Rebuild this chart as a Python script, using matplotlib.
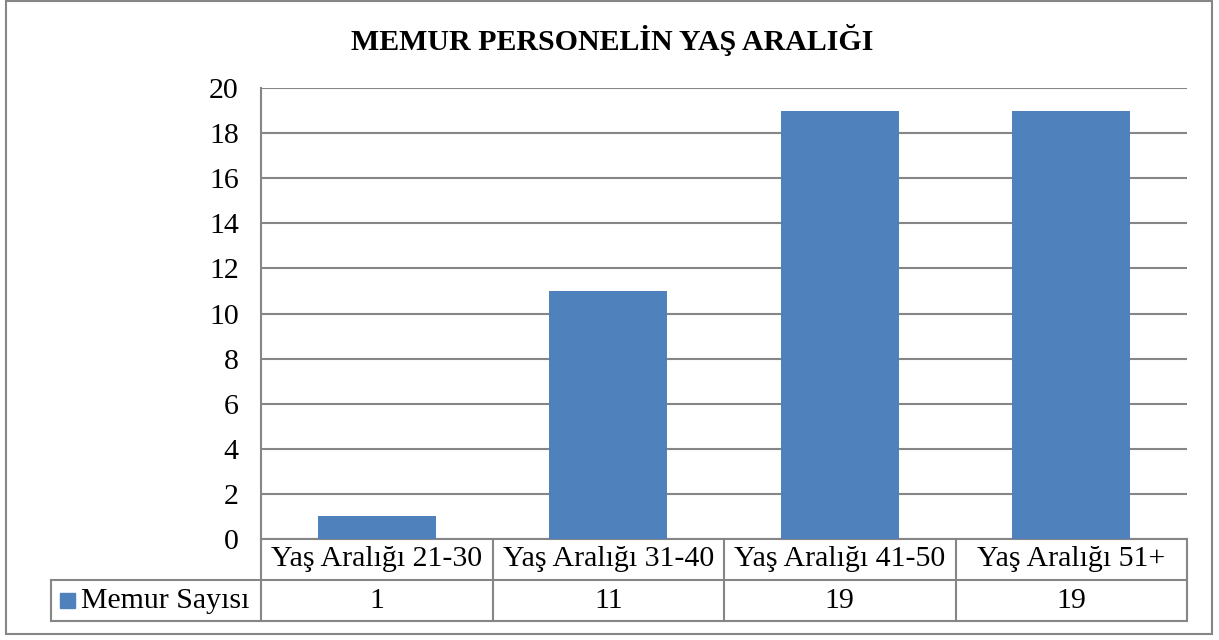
import matplotlib.pyplot as plt
from matplotlib.patches import Rectangle
from matplotlib.transforms import blended_transform_factory

# data
categories = ['Yaş Aralığı 21-30', 'Yaş Aralığı 31-40', 'Yaş Aralığı 41-50', 'Yaş Aralığı 51+']
memur_sayisi = [1, 11, 19, 19]
series_name = 'Memur Sayısı'
title = 'MEMUR PERSONELİN YAŞ ARALIĞI'

bar_color = '#4F81BD'
line_color = '#868686'
font = 'Liberation Serif'
fs = 21.5

plt.rcParams['font.family'] = [font, 'DejaVu Serif']

W, H = 1219, 640
fig = plt.figure(figsize=(W / 100, H / 100), dpi=100)

left, right, top, bottom = 261, 1187, 88, 539
ax = fig.add_axes([left / W, 1 - bottom / H, (right - left) / W, (bottom - top) / H])

x = range(len(categories))
ax.bar(x, memur_sayisi, width=0.51, color=bar_color, zorder=3)
ax.set_xlim(-0.5, len(categories) - 0.5)
ax.set_ylim(0, 20)
ax.set_yticks(range(0, 21, 2))
ax.set_xticks([])
ax.yaxis.grid(True, color=line_color, linewidth=1.5, zorder=0)
ax.tick_params(axis='y', length=0, labelsize=fs, pad=16)
for s in ['top', 'right', 'bottom']:
    ax.spines[s].set_visible(False)
ax.spines['left'].set_color(line_color)
ax.spines['left'].set_linewidth(1.5)

# data table below the plot
trans = blended_transform_factory(ax.transData, ax.transAxes)
px_y = 1 / (bottom - top)
cat_w = (right - left) / len(categories)
row_h = 41 * px_y
table_left = -0.5 - (left - 51) / cat_w
kw = dict(color=line_color, linewidth=1.5, transform=trans, clip_on=False)

# horizontal lines
ax.plot([-0.5, len(categories) - 0.5], [0, 0], **kw)
ax.plot([table_left, len(categories) - 0.5], [-row_h, -row_h], **kw)
ax.plot([table_left, len(categories) - 0.5], [-2 * row_h, -2 * row_h], **kw)
# vertical lines
for i in range(len(categories) + 1):
    ax.plot([i - 0.5, i - 0.5], [0, -2 * row_h], **kw)
ax.plot([table_left, table_left], [-row_h, -2 * row_h], **kw)

for i, (c, v) in enumerate(zip(categories, memur_sayisi)):
    ax.text(i, -row_h / 2, c, transform=trans, ha='center', va='center', fontsize=fs)
    ax.text(i, -1.5 * row_h, str(v), transform=trans, ha='center', va='center', fontsize=fs)

# legend key in the row header
ax.text(-0.5 - (left - 165) / cat_w, -1.5 * row_h, series_name, transform=trans,
        ha='center', va='center', fontsize=fs)
ax.add_patch(Rectangle((-0.5 - (left - 60) / cat_w, -1.5 * row_h - 7 * px_y), 15 / cat_w,
                       15 * px_y, transform=trans, color=bar_color, clip_on=False))

# title
fig.text(612 / W, 1 - 40 / H, title, ha='center', va='center', fontsize=fs, fontweight='bold')

# outer chart border
fig.patches.append(Rectangle((6 / W, 1 - 634 / H), 1206 / W, 633 / H, transform=fig.transFigure,
                             fill=False, edgecolor=line_color, linewidth=1.5))

fig.savefig('out.png', dpi=100)
